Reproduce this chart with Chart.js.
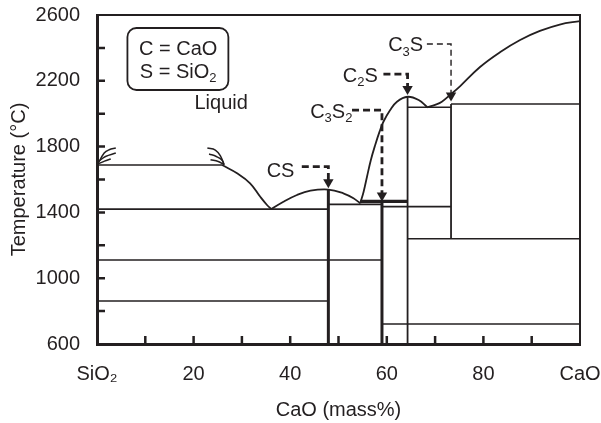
<!DOCTYPE html>
<html>
<head>
<meta charset="utf-8">
<title>CaO-SiO2 phase diagram</title>
<script src="https://cdn.jsdelivr.net/npm/chart.js@4.4.1/dist/chart.umd.min.js"></script>
<style>
html, body { margin: 0; padding: 0; background: #fff; }
</style>
</head>
<body>
<canvas id="phaseChart" width="601" height="423"></canvas>
<script>
// Axis ticks
const xTicks = [0, 10, 20, 30, 40, 50, 60, 70, 80, 90, 100];
const xTickLabels = { 0: 'SiO₂', 20: '20', 40: '40', 60: '60', 80: '80', 100: 'CaO' };
const yTicks = [600, 800, 1000, 1200, 1400, 1600, 1800, 2000, 2200, 2400, 2600];
const yTickLabels = [600, 1000, 1400, 1800, 2200, 2600];

// Liquidus curves, [CaO mass%, T degC]
const liquidusSiO2 = [[25.9, 1688], [29.0, 1638], [31.7, 1577], [33.8, 1495], [35.2, 1445], [36.1, 1420]];
const liquidusCS = [[36.1, 1420], [38.6, 1465], [41.4, 1506], [44.2, 1532], [47.9, 1539], [51.0, 1516], [53.1, 1486], [54.5, 1455]];
const liquidusC2S = [[54.5, 1455], [55.2, 1526], [55.9, 1617], [56.7, 1719], [57.6, 1810], [58.5, 1891], [59.3, 1951],
                     [60.7, 2022], [62.1, 2073], [64.3, 2103], [66.6, 2083], [68.4, 2039]];
const liquidusC3S = [[68.4, 2039], [70.0, 2054], [71.4, 2073], [73.1, 2114], [75.2, 2168], [79.3, 2284], [83.5, 2375],
                     [87.6, 2448], [91.7, 2503], [95.8, 2542], [100, 2563]];

// Isotherms
const isotherms = [
    [[0, 1688], [25.9, 1688]],
    [[0, 1420], [47.9, 1420]],
    [[0, 1111], [59.0, 1111]],
    [[0, 861], [47.9, 861]],
    [[47.9, 1449], [59.0, 1449]],
    [[59.0, 1435], [73.3, 1435]],
    [[59.0, 722], [100, 722]],
    [[64.3, 1240], [100, 1240]],
    [[64.3, 2039], [73.3, 2039]],
    [[73.3, 2059], [100, 2059]]
];
const peritectic = [[54.5, 1467], [64.3, 1467]];

// Compounds
const compoundNames = ['CS', 'C3S2', 'C2S', 'C3S'];
const compoundX = [47.9, 59.0, 64.3, 73.3];
const compoundTop = [1539, 1467, 2103, 2059];
const compoundBottom = [600, 600, 600, 1240];

// Leader lines to the compounds
const leaderCS = [[42.4, 1678], [47.9, 1678], [47.9, 1584]];
const leaderC3S2 = [[52.8, 2022], [59.0, 2022], [59.0, 1503]];
const leaderC2S = [[59.3, 2240], [64.3, 2240], [64.3, 2150]];
const leaderC3S = [[68.3, 2424], [73.3, 2424], [73.3, 2110]];

// Liquid immiscibility marks
const gapLeft = [
    [[0.1, 1690], [1.49, 1761], [2.52, 1781], [3.89, 1791]],
    [[0.41, 1712], [1.76, 1740], [3.89, 1761]],
    [[0.41, 1697], [1.55, 1712], [2.85, 1725]]
];
const gapRight = [
    [[22.85, 1791], [24.5, 1779], [25.6, 1741], [26.3, 1690]],
    [[23.2, 1755], [24.7, 1740], [25.85, 1719], [26.3, 1690]],
    [[23.5, 1720], [25.1, 1709], [26.3, 1690]]
];

const INK = '#231f20';
const FONT = "'Liberation Sans', Arial, Helvetica, sans-serif";

const pts = arr => arr.map(p => ({ x: p[0], y: p[1] }));

function line(arr, width, extra) {
    return Object.assign({
        data: pts(arr),
        showLine: true,
        borderColor: INK,
        backgroundColor: INK,
        borderWidth: width,
        pointRadius: 0,
        tension: 0,
        borderCapStyle: 'butt'
    }, extra || {});
}

const datasets = [];
datasets.push(line(liquidusSiO2, 1.8, { tension: 0.4 }));
datasets.push(line(liquidusCS, 1.8, { tension: 0.4 }));
datasets.push(line(liquidusC2S, 1.8, { tension: 0.4 }));
datasets.push(line(liquidusC3S, 1.8, { tension: 0.4 }));
isotherms.forEach(s => datasets.push(line(s, 1.6)));
datasets.push(line(peritectic, 3.2));
compoundX.forEach((x, i) => {
    const w = (i < 2) ? 3 : 1.8;
    datasets.push(line([[x, compoundBottom[i]], [x, compoundTop[i]]], w));
});
[leaderCS, leaderC3S2, leaderC2S].forEach(l => datasets.push(line(l, 2.8, { borderDash: [7, 4] })));
datasets.push(line(leaderC3S, 1.4, { borderDash: [6, 4] }));
// arrow heads
[leaderCS, leaderC3S2, leaderC2S, leaderC3S].forEach(l => {
    datasets.push({
        data: pts([l[l.length - 1]]),
        showLine: false,
        pointStyle: 'triangle',
        rotation: 180,
        pointRadius: 6,
        borderWidth: 0,
        backgroundColor: INK,
        borderColor: INK
    });
});
gapLeft.concat(gapRight).forEach(s => datasets.push(line(s, 1.5, { tension: 0.4 })));

function richText(ctx, parts, x, y) {
    const big = '20px ' + FONT;
    const small = '13px ' + FONT;
    let w = 0;
    parts.forEach(p => { ctx.font = p[1] ? small : big; w += ctx.measureText(p[0]).width; });
    let cx = x - w / 2;
    ctx.textAlign = 'left';
    ctx.textBaseline = 'middle';
    parts.forEach(p => {
        ctx.font = p[1] ? small : big;
        ctx.fillText(p[0], cx, p[1] ? y + 6 : y);
        cx += ctx.measureText(p[0]).width;
    });
}

const frameAndLabels = {
    id: 'frameAndLabels',
    afterDraw(chart) {
        const { ctx, chartArea: a, scales: { x, y } } = chart;
        ctx.save();
        ctx.strokeStyle = INK;
        ctx.fillStyle = INK;

        // top and right frame
        ctx.lineWidth = 2;
        ctx.beginPath();
        ctx.moveTo(a.left, a.top);
        ctx.lineTo(a.right, a.top);
        ctx.lineTo(a.right, a.bottom);
        ctx.stroke();

        // inward ticks
        ctx.lineWidth = 2.5;
        ctx.beginPath();
        xTicks.slice(1, -1).forEach(v => {
            const px = x.getPixelForValue(v);
            ctx.moveTo(px, a.bottom);
            ctx.lineTo(px, a.bottom - 8);
        });
        yTicks.slice(1, -1).forEach(v => {
            const py = y.getPixelForValue(v);
            ctx.moveTo(a.left, py);
            ctx.lineTo(a.left + 8, py);
        });
        ctx.stroke();

        // legend box
        const bx = x.getPixelForValue(6.3), by = y.getPixelForValue(2521);
        const bx2 = x.getPixelForValue(27.2), by2 = y.getPixelForValue(2144);
        ctx.lineWidth = 1.8;
        ctx.beginPath();
        ctx.roundRect(bx, by, bx2 - bx, by2 - by, 9);
        ctx.stroke();
        richText(ctx, [['C = CaO']], x.getPixelForValue(16.8), y.getPixelForValue(2393));
        richText(ctx, [['S = SiO'], ['2', true]], x.getPixelForValue(16.8), y.getPixelForValue(2253));

        // region and compound labels
        richText(ctx, [['Liquid']], x.getPixelForValue(25.7), y.getPixelForValue(2065));
        richText(ctx, [['CS']], x.getPixelForValue(38.0), y.getPixelForValue(1647));
        richText(ctx, [['C'], ['2', true], ['S']], x.getPixelForValue(54.5), y.getPixelForValue(2229));
        richText(ctx, [['C'], ['3', true], ['S'], ['2', true]], x.getPixelForValue(48.5), y.getPixelForValue(2010));
        richText(ctx, [['C'], ['3', true], ['S']], x.getPixelForValue(63.9), y.getPixelForValue(2412));
        ctx.restore();
    }
};

Chart.defaults.color = INK;
Chart.defaults.font.family = FONT;
Chart.defaults.font.size = 20;

new Chart(document.getElementById('phaseChart'), {
    type: 'scatter',
    data: { datasets },
    options: {
        responsive: false,
        animation: false,
        devicePixelRatio: 1,
        layout: { padding: { top: 15, right: 21, left: 0, bottom: 0 } },
        plugins: { legend: { display: false }, tooltip: { enabled: false } },
        scales: {
            x: {
                type: 'linear',
                min: 0,
                max: 100,
                afterFit(scale) {
                    scale.height = 79;
                    scale.paddingLeft = 0;
                    scale.paddingRight = 0;
                },
                afterBuildTicks(scale) { scale.ticks = xTicks.map(v => ({ value: v })); },
                grid: { display: false },
                border: { display: true, width: 3, color: INK },
                ticks: {
                    autoSkip: false,
                    maxRotation: 0,
                    padding: 10,
                    color: INK,
                    font: { size: 20 },
                    callback: v => xTickLabels[v] || ''
                },
                title: { display: true, text: 'CaO (mass%)', color: INK, font: { size: 20 }, padding: { top: 0, bottom: 1 } }
            },
            y: {
                type: 'linear',
                min: 600,
                max: 2600,
                afterFit(scale) {
                    scale.width = 97;
                    scale.paddingTop = 0;
                    scale.paddingBottom = 0;
                },
                afterBuildTicks(scale) { scale.ticks = yTicks.map(v => ({ value: v })); },
                grid: { display: false },
                border: { display: true, width: 3, color: INK },
                ticks: {
                    autoSkip: false,
                    padding: 9,
                    color: INK,
                    font: { size: 20 },
                    callback: v => yTickLabels.includes(v) ? String(v) : ''
                },
                title: { display: true, text: 'Temperature (°C)', color: INK, font: { size: 20 }, padding: { top: 7, bottom: 0 } }
            }
        }
    },
    plugins: [frameAndLabels]
});
</script>
</body>
</html>
